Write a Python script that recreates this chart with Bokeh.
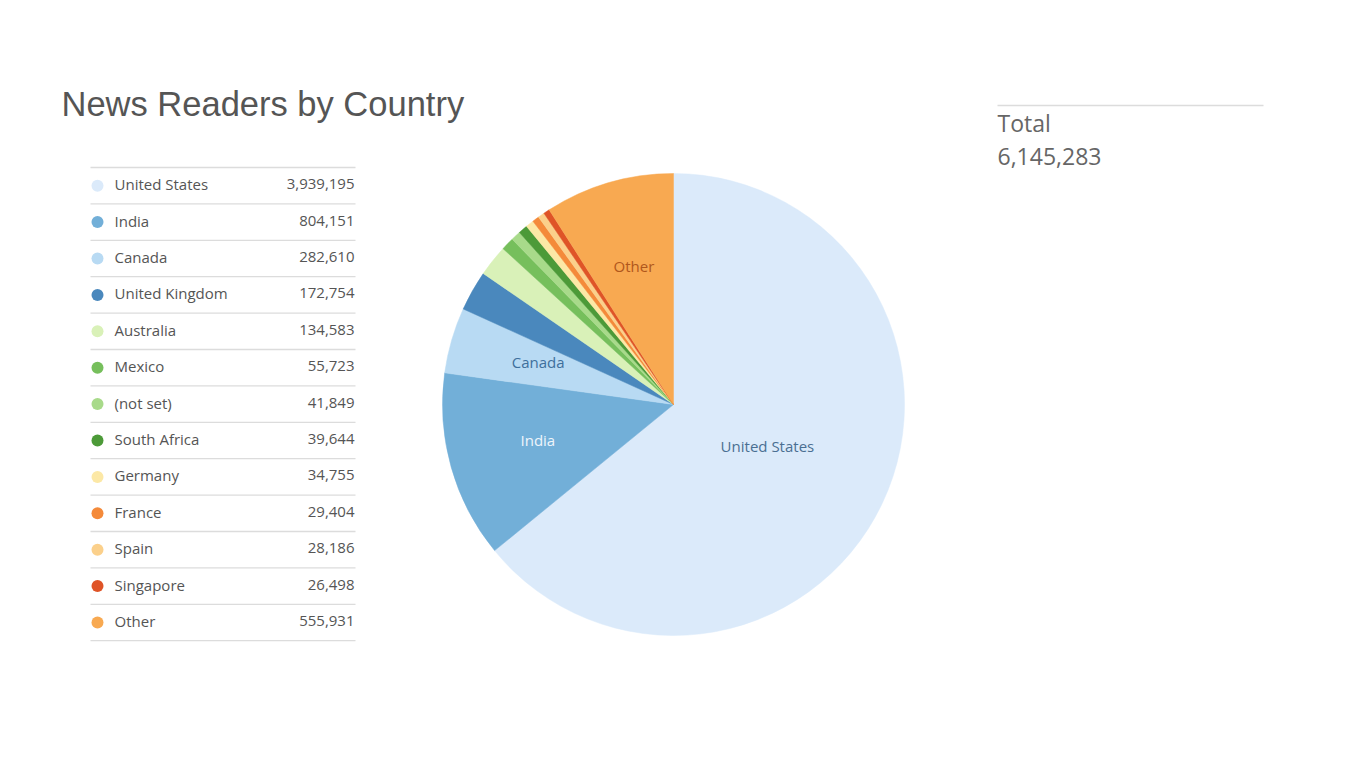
import math
from bokeh.plotting import figure
from bokeh.models import Range1d, ColumnDataSource
from bokeh.core.properties import value
from bokeh.embed import file_html
from bokeh.resources import INLINE

# ---- data ----
countries = ["United States", "India", "Canada", "United Kingdom", "Australia", "Mexico",
             "(not set)", "South Africa", "Germany", "France", "Spain", "Singapore", "Other"]
readers = [3939195, 804151, 282610, 172754, 134583, 55723,
           41849, 39644, 34755, 29404, 28186, 26498, 555931]
colors = ["#dbeafa", "#72afd8", "#b8daf3", "#4a88bd", "#d9f1b8", "#76bf5c",
          "#a8da8a", "#4c9a38", "#fce8a6", "#f48a3a", "#fbd08b", "#df5427", "#f8a951"]
slice_labels = {"United States": ("#4a6f92", 0.45), "India": ("#eef5fb", 0.61),
                "Canada": ("#3e6f9c", 0.61), "Other": ("#b0571c", 0.61)}
title_text = "News Readers by Country"
total_label = "Total"

W, H = 1337, 754
p = figure(width=W, height=H, output_backend="svg", toolbar_location=None,
           x_range=Range1d(0, W), y_range=Range1d(0, H), min_border=0,
           outline_line_color=None, background_fill_color="white")
p.axis.visible = False
p.grid.visible = False

def X(xs):
    return xs

def Y(ys):
    return H - ys

# Title
p.text(x=[X(61)], y=[Y(103)], text=[title_text], text_font=value("Liberation Sans"),
       text_font_size="34.5px", text_color="#555555", text_baseline="middle", text_align="left")

# ---- legend table ----
row_h = 36.4
top = 167
left, right = 90, 355
fmt = [f"{v:,}" for v in readers]
n = len(countries)
ys_rows = [Y(top + row_h * (i + 0.5)) for i in range(n)]
ys_text = [y + 1.5 for y in ys_rows]
seps = [Y(top + row_h * i) for i in range(n + 1)]
p.segment(x0=[X(left)] * (n + 1), x1=[X(right)] * (n + 1), y0=seps, y1=seps,
          line_color="#dcdcdc", line_width=1.3)
src = ColumnDataSource(dict(y=ys_rows, yt=ys_text, c=countries, v=fmt, col=colors))
p.scatter(x=X(97), y="y", size=12, fill_color="col", line_color=None, source=src)
p.text(x=X(114), y="yt", text="c", source=src, text_font=value("Open Sans"),
       text_font_size="15px", text_color="#555555", text_baseline="middle", text_align="left")
p.text(x=X(354), y="yt", text="v", source=src, text_font=value("Open Sans"),
       text_font_size="15px", text_color="#555555", text_baseline="middle", text_align="right")

# ---- pie ----
cx, cy, R = X(673), Y(404), 231
total = sum(readers)
starts, ends = [], []
cum = 0
for v in readers:
    starts.append(math.pi / 2 - 2 * math.pi * cum / total)
    cum += v
    ends.append(math.pi / 2 - 2 * math.pi * cum / total)
p.wedge(x=cx, y=cy, radius=R, start_angle=starts, end_angle=ends, direction="clock",
        fill_color=colors, line_color=colors, line_width=0.5)

lx, ly, lt, lc = [], [], [], []
for i, c in enumerate(countries):
    if c in slice_labels:
        col, rf = slice_labels[c]
        mid = (starts[i] + ends[i]) / 2
        lx.append(cx + rf * R * math.cos(mid))
        ly.append(cy + rf * R * math.sin(mid) + 3)
        lt.append(c)
        lc.append(col)
p.text(x=lx, y=ly, text=lt, text_color=lc, text_font=value("Open Sans"),
       text_font_size="15px", text_baseline="middle", text_align="center")

# ---- total box ----
p.segment(x0=[X(997)], x1=[X(1263)], y0=[Y(105)], y1=[Y(105)], line_color="#dcdcdc", line_width=1.5)
p.text(x=[X(997), X(997)], y=[Y(122), Y(155.5)], text=[total_label, f"{total:,}"],
       text_font=value("Open Sans"), text_font_size="23px", text_color="#666666",
       text_baseline="middle", text_align="left")

open("out.html", "w").write(file_html(p, INLINE))
